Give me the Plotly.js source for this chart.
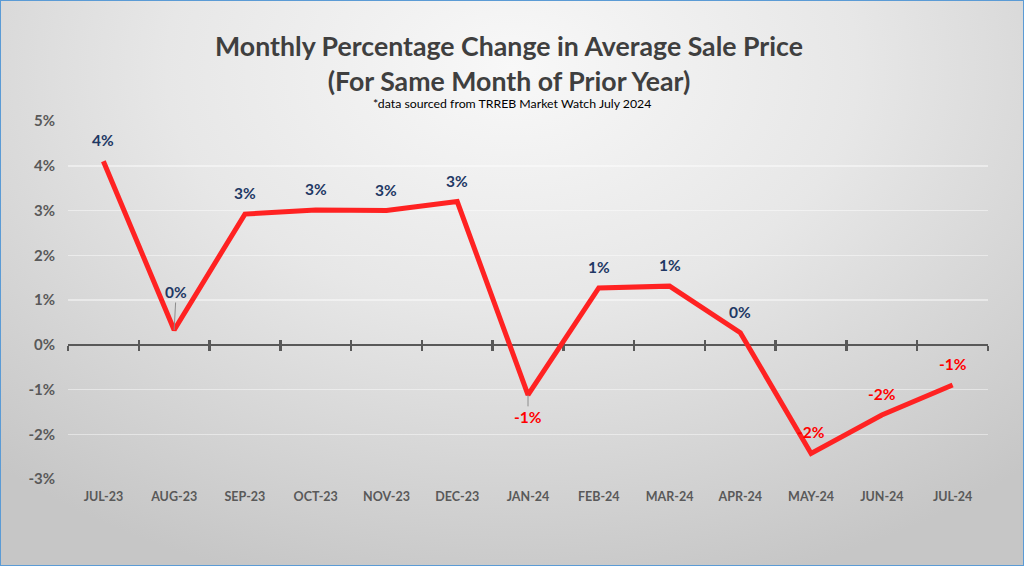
<!DOCTYPE html>
<html>
<head>
<meta charset="utf-8">
<script src="https://cdn.plot.ly/plotly-3.0.1.min.js"></script>
<style>
  html, body { margin: 0; padding: 0; }
  #wrap {
    position: relative; width: 1024px; height: 566px; overflow: hidden;
    background: radial-gradient(ellipse 75% 95% at 50% 12%, #f8f8f8 0%, #e7e7e7 45%, #d2d2d2 80%, #c6c6c6 100%);
  }
  #chart { position: absolute; left: 0; top: 0; width: 1024px; height: 566px; }
  #frame {
    position: absolute; left: 0; top: 0; width: 1024px; height: 566px;
    box-sizing: border-box; border: 1.5px solid #5b9bd5; pointer-events: none;
  }
</style>
</head>
<body>
<div id="wrap"><div id="chart"></div><div id="frame"></div></div>
<script>
// ---- data ----
const months = ['JUL-23','AUG-23','SEP-23','OCT-23','NOV-23','DEC-23','JAN-24','FEB-24','MAR-24','APR-24','MAY-24','JUN-24','JUL-24'];
const changePct = [4.1, 0.33, 2.92, 3.01, 3.0, 3.2, -1.12, 1.27, 1.31, 0.27, -2.43, -1.57, -0.9];
const yTickVals = [-3, -2, -1, 0, 1, 2, 3, 4, 5];
const titleText = 'Monthly Percentage Change in Average Sale Price<br>(For Same Month of Prior Year)';
const subtitleText = '*data sourced from TRREB Market Watch July 2024';

// ---- style ----
const FONT = 'Lato, "Open Sans", sans-serif';
const AXIS_GRAY = '#595959';
const NAVY = '#1f3864';
const RED = '#ff0000';
const W = 1024, H = 566;
const yMin = -3, yMax = 5;
const zeroPos = (0 - yMin) / (yMax - yMin);
const xRange = [-0.5, months.length - 0.5];
const plotTop = 121, plotBottom = 479, plotLeft = 68, plotRight = 988;
const pyToPaper = py => (plotBottom - py) / (plotBottom - plotTop);
const pxToPaper = px => (px - plotLeft) / (plotRight - plotLeft);

const mainLine = {
  x: months, y: changePct, type: 'scatter', mode: 'lines',
  line: { color: '#ff2222', width: 5 }, hoverinfo: 'x+y', showlegend: false
};
const dummy2 = { x: months, y: changePct, xaxis: 'x2', type: 'scatter', mode: 'lines',
  line: { width: 0 }, opacity: 0, hoverinfo: 'skip', showlegend: false };
const dummy3 = Object.assign({}, dummy2, { xaxis: 'x3' });

// data labels
const specialOffsets = { 'AUG-23': { ax: 2, ay: -38 }, 'JAN-24': { ax: 0, ay: 22 } };
const annotations = months.map((m, i) => {
  const v = changePct[i];
  const txt = Math.round(v) + '%';
  const col = v < 0 ? RED : NAVY;
  const sp = specialOffsets[m];
  const base = { x: m, y: v, xref: 'x', yref: 'y', text: '<b>' + txt + '</b>',
    font: { family: FONT, size: 15.5, color: col } };
  if (sp) {
    return Object.assign(base, { showarrow: true, arrowhead: 0, arrowwidth: 1, arrowcolor: '#8c8c8c',
      ax: sp.ax, ay: sp.ay, standoff: 0 });
  }
  return Object.assign(base, { showarrow: false, yshift: 21 });
});
annotations.push({
  text: subtitleText, xref: 'paper', yref: 'paper', x: pxToPaper(512), y: pyToPaper(103),
  xanchor: 'center', yanchor: 'middle', showarrow: false,
  font: { family: FONT, size: 12.3, color: '#000000' }
});

const baseXAxis = {
  type: 'category', range: xRange, showgrid: false, zeroline: false, fixedrange: true
};

const layout = {
  width: W, height: H,
  paper_bgcolor: 'rgba(0,0,0,0)', plot_bgcolor: 'rgba(0,0,0,0)',
  margin: { l: plotLeft, r: W - plotRight, t: plotTop, b: H - plotBottom },
  title: { text: '<b>' + titleText + '</b>', x: 509 / W, xanchor: 'center', xref: 'container',
    y: 1 - 56 / H, yanchor: 'middle', yref: 'container',
    font: { family: FONT, size: 26.7, color: '#3f3f3f' } },
  xaxis: Object.assign({}, baseXAxis, {
    showline: false, ticks: '', ticklabelstandoff: 8,
    tickfont: { family: FONT, size: 12.5, color: AXIS_GRAY, weight: 'bold' }
  }),
  xaxis2: Object.assign({}, baseXAxis, {
    overlaying: 'x', anchor: 'free', position: zeroPos, side: 'bottom',
    showticklabels: false, showline: true, linecolor: AXIS_GRAY, linewidth: 2.5,
    ticks: 'outside', ticklen: 5, tickwidth: 2.5, tickcolor: AXIS_GRAY,
    tickson: 'boundaries', layer: 'below traces'
  }),
  xaxis3: Object.assign({}, baseXAxis, {
    overlaying: 'x', anchor: 'free', position: zeroPos, side: 'bottom',
    showticklabels: false, showline: false,
    ticks: 'inside', ticklen: 5, tickwidth: 2.5, tickcolor: AXIS_GRAY,
    tickson: 'boundaries', layer: 'below traces'
  }),
  yaxis: {
    range: [yMin, yMax], tickvals: yTickVals, ticktext: yTickVals.map(v => v + '%'),
    showgrid: true, gridcolor: 'rgba(255,255,255,0.45)', gridwidth: 1.5,
    zeroline: false, showline: false, ticks: '', ticklabelstandoff: 12,
    tickfont: { family: FONT, size: 15, color: AXIS_GRAY, weight: 'bold' }, fixedrange: true
  },
  annotations: annotations,
  showlegend: false
};

Plotly.newPlot('chart', [mainLine, dummy2, dummy3], layout, { displayModeBar: false, staticPlot: true });
</script>
</body>
</html>
